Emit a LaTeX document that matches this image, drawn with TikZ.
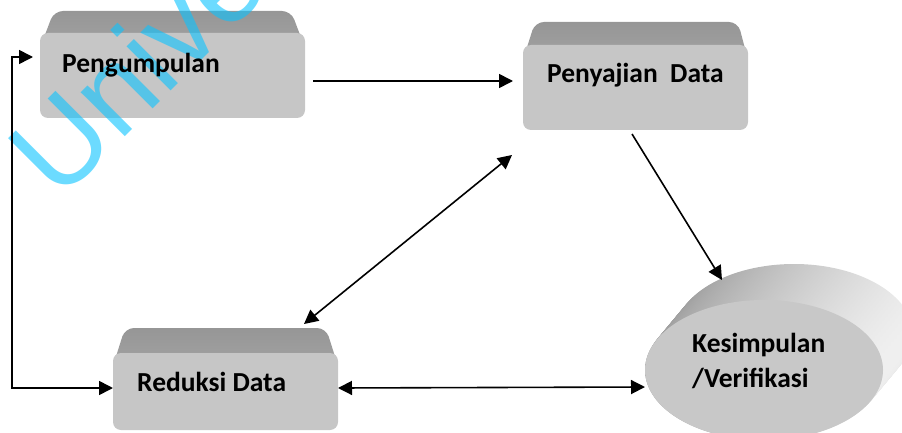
\documentclass[tikz,border=0pt]{standalone}
\usepackage{fontspec}
\setmainfont{Carlito}
\newfontfamily\wmfont{Liberation Sans}
\usetikzlibrary{arrows.meta,calc,shapes.geometric}
\definecolor{facegray}{RGB}{198,198,198}
\definecolor{topdark}{RGB}{150,150,150}
\definecolor{toplight}{RGB}{162,162,162}
\definecolor{wmcyan}{RGB}{10,195,255}
\definecolor{kesface}{RGB}{200,200,200}
\begin{document}
\begin{tikzpicture}[x=1pt,y=-1pt,
  face/.style={draw=none, fill=facegray, rounded corners=8pt, inner sep=0pt, rectangle},
  bevel/.style={top color=topdark, bottom color=toplight, rounded corners=9pt},
  lbl/.style={font=\fontsize{27.5}{32}\selectfont\bfseries, anchor=base west, inner sep=0pt},
  conn/.style={line width=1.6pt, -{Triangle[length=14pt,width=14pt]}},
  dconn/.style={line width=1.6pt, {Triangle[length=14pt,width=14pt]}-{Triangle[length=14pt,width=14pt]}},
]
\useasboundingbox (0,0) rectangle (902,433);
\clip (0,0) rectangle (902,433);

% Pengumpulan box
\shade[bevel] (40,48) -- (54,11) -- (291,11) -- (305,48) -- cycle;
\node[face, minimum width=265pt, minimum height=85pt] (peng) at (172.5,75.5) {};

% Penyajian Data box
\shade[bevel] (523,60) -- (535,22) -- (738,22) -- (748,60) -- cycle;
\node[face, minimum width=225pt, minimum height=85pt] (peny) at (635.5,87.5) {};

% Reduksi Data box
\shade[bevel] (113,366) -- (125,328) -- (326,328) -- (338,366) -- cycle;
\node[face, minimum width=225pt, minimum height=77pt] (red) at (225.5,391.5) {};

% Kesimpulan cylinder
\coordinate (cb) at (794,334);
\coordinate (cf) at (764,370);
\foreach \i in {0,...,40} {
  \shade[left color=gray!78, right color=gray!12] ($(cb)!\i/40!(cf)$) ellipse [x radius=119, y radius=70];
}
\node[ellipse, fill=kesface, minimum width=238pt, minimum height=140pt, inner sep=0pt] (kes) at (cf) {};

% watermark
\node[font=\wmfont\fontsize{118}{118}\selectfont, text=wmcyan, opacity=0.6, rotate=45, anchor=base west, inner sep=0pt] (wm) at (59,203) {Unive};

% labels
\node[lbl] (tpeng) at (62,73) {Pengumpulan};
\node[lbl] (tpeny) at (547,83) {Penyajian~ Data};
\node[lbl] (tred) at (137,391) {Reduksi Data};
\node[lbl] (tkes1) at (692,352) {Kesimpulan};
\node[lbl] (tkes2) at (692,387) {/Verifikasi};

% connectors
\coordinate (a1s) at (313,81);
\coordinate (a1e) at (513,81);
\draw[conn] (a1s) -- (a1e);

\coordinate (l1) at (33,57);
\coordinate (l2) at (113,388);
\draw[dconn] (l1) -- ++(-21,0) |- (l2);

\coordinate (d1) at (512,155);
\coordinate (d2) at (304,324);
\draw[dconn] (d1) -- (d2);

\coordinate (p1) at (632,134);
\coordinate (p2) at (722,280);
\draw[conn] (p1) -- (p2);

\coordinate (r1) at (338,388);
\coordinate (r2) at (645,387);
\draw[dconn] (r1) -- (r2);
\end{tikzpicture}
\end{document}
